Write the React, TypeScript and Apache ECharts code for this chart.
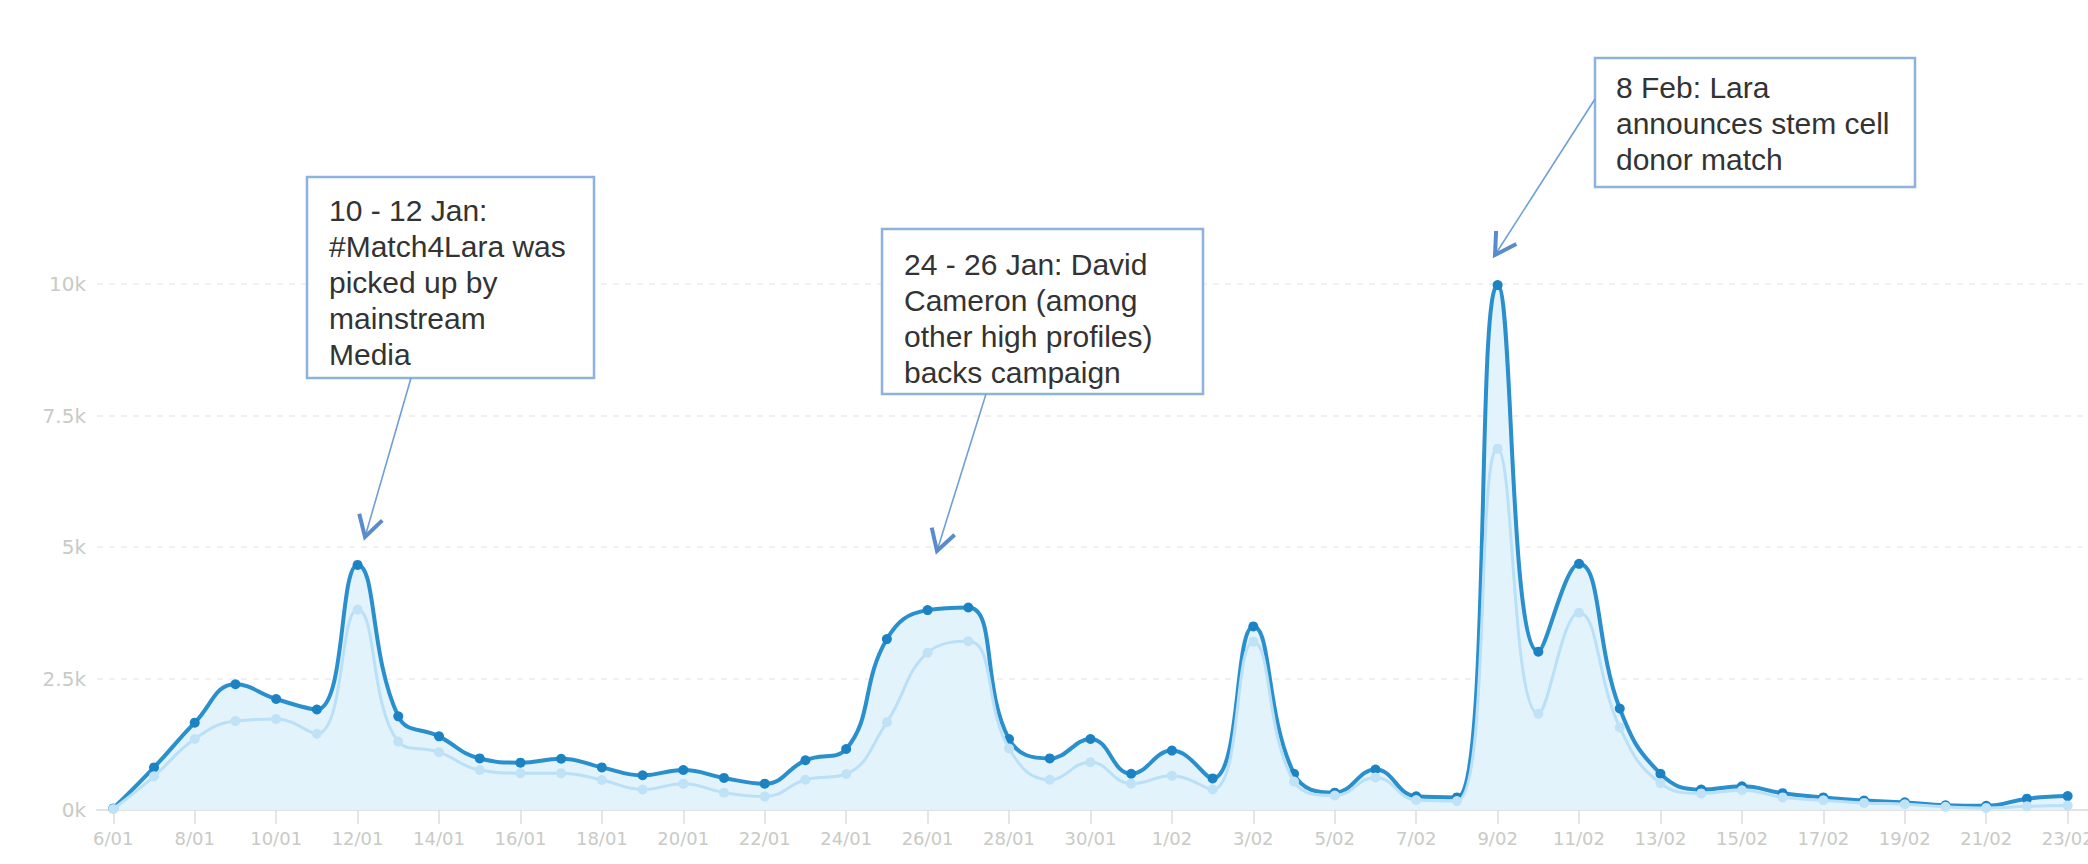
import React, { useEffect, useRef } from "react";
import * as echarts from "echarts";

const dates = [
  "6/01","7/01","8/01","9/01","10/01","11/01","12/01","13/01","14/01","15/01",
  "16/01","17/01","18/01","19/01","20/01","21/01","22/01","23/01","24/01","25/01",
  "26/01","27/01","28/01","29/01","30/01","31/01","1/02","2/02","3/02","4/02",
  "5/02","6/02","7/02","8/02","9/02","10/02","11/02","12/02","13/02","14/02",
  "15/02","16/02","17/02","18/02","19/02","20/02","21/02","22/02","23/02",
];

const mentions = [
  30, 810, 1660, 2390, 2110, 1910, 4660, 1780, 1400, 980,
  900, 975, 810, 660, 760, 610, 500, 945, 1160, 3250,
  3800, 3850, 1350, 980, 1350, 690, 1130, 600, 3490, 690,
  330, 770, 260, 240, 9980, 3010, 4680, 1930, 690, 390,
  450, 320, 240, 180, 145, 90, 80, 215, 265,
];

const uniqueUsers = [
  20, 640, 1350, 1690, 1730, 1450, 3810, 1300, 1100, 760,
  700, 700, 570, 390, 500, 330, 255, 575, 685, 1670,
  2990, 3210, 1170, 575, 910, 500, 650, 390, 3200, 540,
  275, 620, 190, 170, 6870, 1830, 3750, 1570, 510, 315,
  375, 240, 185, 135, 110, 60, 40, 70, 85,
];

const yTicks = [0, 2500, 5000, 7500, 10000];

const notes = [
  {
    text: "10 - 12 Jan:\n#Match4Lara was\npicked up by\nmainstream\nMedia",
    box: [307, 177, 287, 201],
    textPos: [329, 192],
    arrow: [411, 378, 365, 537],
  },
  {
    text: "24 - 26 Jan: David\nCameron (among\nother high profiles)\nbacks campaign",
    box: [882, 229, 321, 165],
    textPos: [904, 246],
    arrow: [986, 394, 937, 551],
  },
  {
    text: "8 Feb: Lara\nannounces stem cell\ndonor match",
    box: [1595, 58, 320, 129],
    textPos: [1616, 69],
    arrow: [1595, 99, 1495, 255],
  },
];

function arrowHead(x1: number, y1: number, x2: number, y2: number, len: number) {
  const dx = x1 - x2;
  const dy = y1 - y2;
  const d = Math.hypot(dx, dy);
  const ux = dx / d;
  const uy = dy / d;
  const c = Math.cos(Math.PI / 6);
  const s = Math.sin(Math.PI / 6);
  const a = [x2 + len * (ux * c - uy * s), y2 + len * (ux * s + uy * c)];
  const b = [x2 + len * (ux * c + uy * s), y2 + len * (-ux * s + uy * c)];
  return [a, [x2, y2], b];
}

export default function App() {
  const ref = useRef<HTMLDivElement>(null);

  useEffect(() => {
    document.body.style.margin = "0";
    if (!ref.current) return;
    const chart = echarts.init(ref.current, null, { renderer: "svg" });

    const graphics: any[] = [];
    notes.forEach((n) => {
      graphics.push({
        type: "rect",
        z: 100,
        shape: { x: n.box[0], y: n.box[1], width: n.box[2], height: n.box[3] },
        style: { fill: "#ffffff", stroke: "#8db2dd", lineWidth: 2.5 },
      });
      graphics.push({
        type: "text",
        z: 101,
        x: n.textPos[0],
        y: n.textPos[1],
        style: {
          text: n.text,
          fontFamily: "Liberation Sans",
          fontSize: 30,
          lineHeight: 36,
          fill: "#333333",
          verticalAlign: "top",
        },
      });
      const [x1, y1, x2, y2] = n.arrow;
      graphics.push({
        type: "line",
        z: 100,
        shape: { x1, y1, x2, y2 },
        style: { stroke: "#6f9fd6", lineWidth: 1.6 },
      });
      graphics.push({
        type: "polyline",
        z: 100,
        shape: { points: arrowHead(x1, y1, x2, y2, 24) },
        style: { stroke: "#5a8cca", lineWidth: 4, fill: null, lineJoin: "miter" },
      });
    });

    const tickIdx = dates.map((_, i) => i).filter((i) => i % 2 === 0);

    chart.setOption({
      animation: false,
      backgroundColor: "#ffffff",
      grid: {
        left: 97,
        right: 0,
        top: 284,
        bottom: 54,
        containLabel: false,
        outerBoundsMode: "none",
      },
      xAxis: {
        type: "value",
        min: -0.4,
        max: 48.5,
        axisLine: { show: true, lineStyle: { color: "#e2e2e2", width: 2 } },
        axisTick: {
          show: true,
          customValues: tickIdx,
          length: 14,
          lineStyle: { color: "#dcdcdc", width: 1.5 },
        },
        axisLabel: {
          customValues: tickIdx,
          formatter: (v: number) => dates[Math.round(v)] ?? "",
          color: "#c8cac6",
          fontFamily: "DejaVu Sans",
          fontSize: 18,
          margin: 19,
        },
        splitLine: { show: false },
      },
      yAxis: {
        type: "value",
        min: yTicks[0],
        max: yTicks[yTicks.length - 1],
        interval: 2500,
        axisLine: { show: false },
        axisTick: { show: false },
        axisLabel: {
          formatter: (v: number) => `${v / 1000}k`,
          color: "#c8cac6",
          fontFamily: "DejaVu Sans",
          fontSize: 20,
          margin: 11,
        },
        splitLine: {
          show: true,
          lineStyle: { color: "#ebebeb", type: [6, 6], width: 1.5 },
        },
      },
      series: [
        {
          name: "Mentions",
          type: "line",
          data: mentions.map((v, i) => [i, v]),
          smooth: 0.45,
          clip: false,
          symbol: "circle",
          symbolSize: 10,
          lineStyle: { color: "#2a8fcd", width: 4 },
          itemStyle: { color: "#1b83c4" },
          areaStyle: { color: "#e3f3fc", opacity: 1 },
          z: 2,
        },
        {
          name: "Unique users",
          type: "line",
          data: uniqueUsers.map((v, i) => [i, v]),
          smooth: 0.45,
          clip: false,
          symbol: "circle",
          symbolSize: 10,
          lineStyle: { color: "#b9e0f6", width: 3 },
          itemStyle: { color: "#bfe2f7" },
          z: 3,
        },
      ],
      graphic: graphics,
    });

    return () => chart.dispose();
  }, []);

  return <div ref={ref} style={{ width: 2088, height: 864 }} />;
}
